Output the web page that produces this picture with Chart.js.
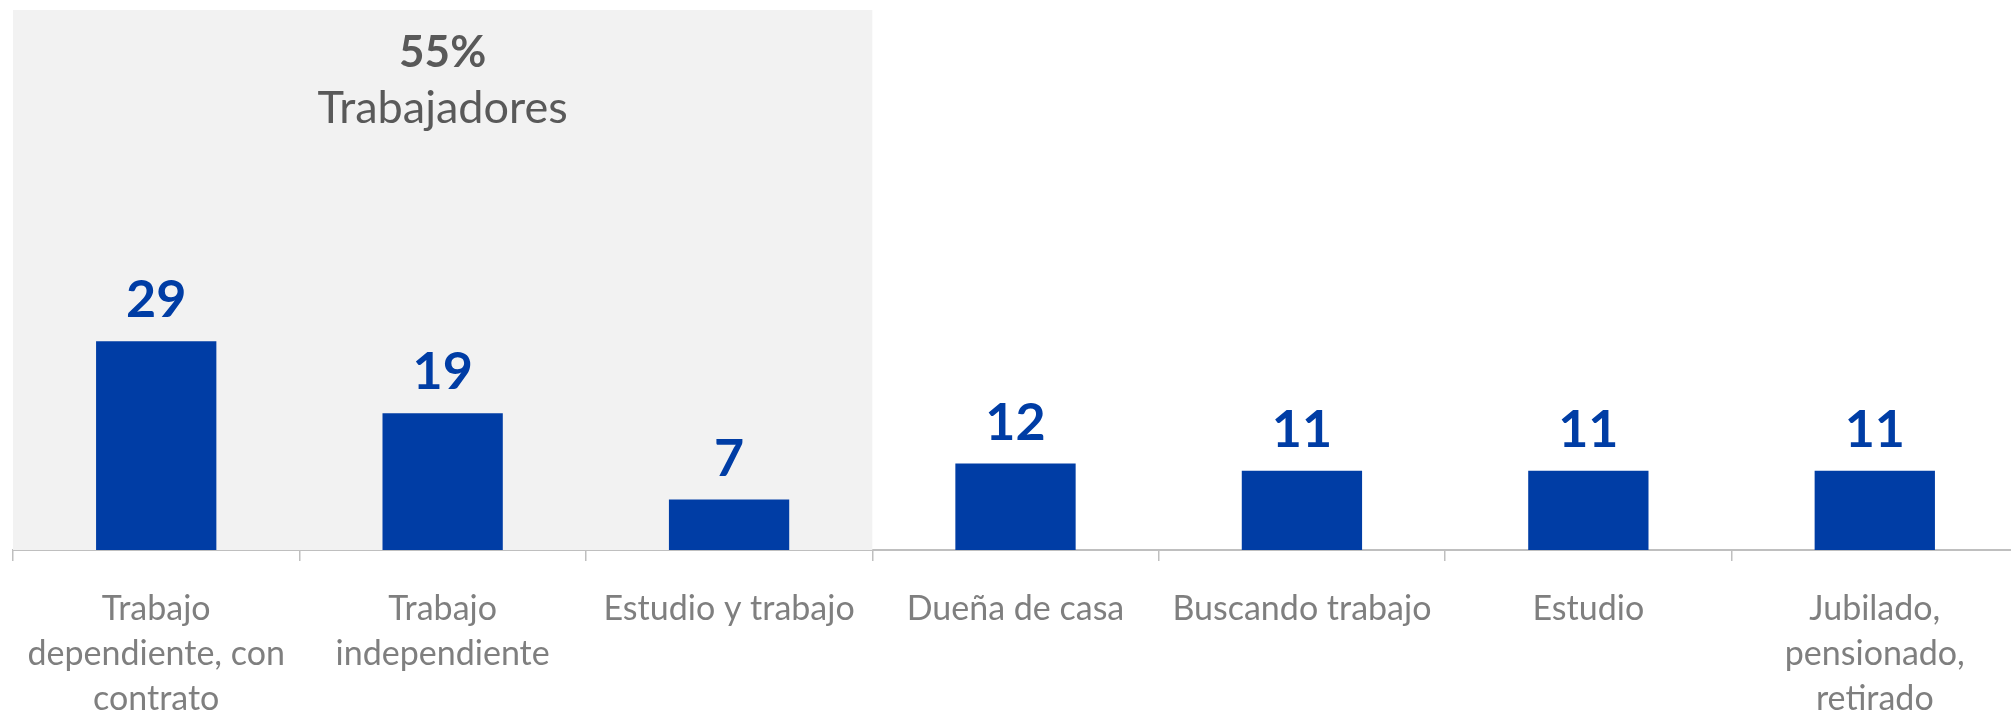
<!DOCTYPE html>
<html>
<head>
<meta charset="utf-8">
<script src="https://cdn.jsdelivr.net/npm/chart.js@4.4.0/dist/chart.umd.min.js"></script>
<style>
  html, body { margin: 0; padding: 0; background: #ffffff; overflow: hidden; }
  #wrap { width: 2011px; height: 715px; overflow: hidden; }
</style>
</head>
<body>
<div id="wrap"><canvas id="c" width="2019" height="715"></canvas></div>
<script>
// ---- data ----
const categories = [
  ["Trabajo", "dependiente, con", "contrato"],
  ["Trabajo", "independiente"],
  "Estudio y trabajo",
  "Dueña de casa",
  "Buscando trabajo",
  "Estudio",
  ["Jubilado,", "pensionado,", "retirado"]
];
const values = [29, 19, 7, 12, 11, 11, 11];
const workerGroup = [0, 1, 2];          // categories inside the shaded block
const groupShare = "55%";
const groupLabel = "Trabajadores";
const yMax = 75;

const BAR_COLOR = "#003DA5";
const FONT = "Lato, 'Open Sans', sans-serif";

const shadePlugin = {
  id: 'shade',
  beforeDatasetsDraw(chart) {
    const x = chart.scales.x, area = chart.chartArea, ctx = chart.ctx;
    const half = (x.getPixelForValue(1) - x.getPixelForValue(0)) / 2;
    const left = x.getPixelForValue(workerGroup[0]) - half;
    const right = x.getPixelForValue(workerGroup[workerGroup.length - 1]) + half;
    ctx.save();
    ctx.fillStyle = "#F2F2F2";
    ctx.fillRect(left, area.top, right - left, area.bottom - area.top);
    const cx = (left + right) / 2;
    ctx.textAlign = "center";
    ctx.textBaseline = "alphabetic";
    ctx.fillStyle = "#595959";
    ctx.font = "bold 44px " + FONT;
    ctx.fillText(groupShare, cx, area.top + 57);
    ctx.font = "45px " + FONT;
    ctx.fillText(groupLabel, cx, area.top + 113);
    ctx.restore();
  }
};

const valueLabels = {
  id: 'valueLabels',
  afterDatasetsDraw(chart) {
    const ctx = chart.ctx;
    const meta = chart.getDatasetMeta(0);
    ctx.save();
    ctx.fillStyle = BAR_COLOR;
    ctx.font = "bold 52px " + FONT;
    ctx.textAlign = "center";
    ctx.textBaseline = "alphabetic";
    meta.data.forEach((bar, i) => {
      ctx.fillText(String(values[i]), bar.x, bar.y - 24);
    });
    ctx.restore();
  }
};

function draw() {
  new Chart(document.getElementById('c'), {
    type: 'bar',
    data: {
      labels: categories,
      datasets: [{
        data: values,
        backgroundColor: BAR_COLOR,
        borderWidth: 0,
        barPercentage: 0.42,
        categoryPercentage: 1.0
      }]
    },
    options: {
      responsive: false,
      animation: false,
      layout: { padding: { left: 13, right: 1, top: 10, bottom: 0 } },
      plugins: { legend: { display: false }, tooltip: { enabled: false } },
      scales: {
        y: { display: false, min: 0, max: yMax },
        x: {
          offset: true,
          border: { display: true, color: "#BFBFBF", width: 2 },
          grid: {
            offset: true,
            drawOnChartArea: false,
            drawTicks: true,
            tickLength: 11,
            color: "#BFBFBF",
            lineWidth: 1.5
          },
          ticks: {
            color: "#7F7F7F",
            font: { family: FONT, size: 34, lineHeight: 1.32 },
            padding: 26,
            maxRotation: 0,
            autoSkip: false
          },
          afterFit(scale) { scale.height = 165; }
        }
      }
    },
    plugins: [shadePlugin, valueLabels]
  });
}

Promise.all([
  document.fonts.load("34px Lato"),
  document.fonts.load("bold 52px Lato")
]).then(draw, draw);
</script>
</body>
</html>
